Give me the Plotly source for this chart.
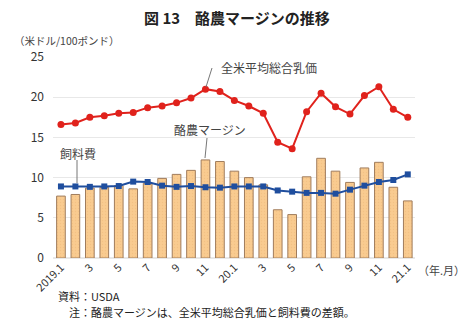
import plotly.graph_objects as go

months = ["2019.1", "2", "3", "4", "5", "6", "7", "8", "9", "10", "11", "12",
          "20.1", "2", "3", "4", "5", "6", "7", "8", "9", "10", "11", "12", "21.1"]
milk_price = [16.6, 16.8, 17.5, 17.7, 18.0, 18.1, 18.7, 18.9, 19.3, 19.9, 21.0, 20.7,
              19.6, 18.9, 18.0, 14.4, 13.6, 18.2, 20.5, 18.8, 17.9, 20.2, 21.3, 18.5, 17.5]
feed_cost = [8.9, 8.9, 8.85, 8.9, 8.95, 9.5, 9.45, 9.0, 8.85, 8.95, 8.8, 8.75,
             8.9, 8.9, 8.9, 8.4, 8.25, 8.1, 8.1, 8.0, 8.5, 9.0, 9.45, 9.7, 10.4]
margin = [7.7, 7.9, 8.7, 8.8, 9.0, 8.6, 9.3, 9.9, 10.4, 10.9, 12.2, 12.0,
          10.8, 10.0, 9.1, 6.0, 5.4, 10.1, 12.4, 10.8, 9.4, 11.2, 11.9, 8.8, 7.1]
tick_idx = list(range(0, 25, 2))
tick_text = ["2019.1", "3", "5", "7", "9", "11", "20.1", "3", "5", "7", "9", "11", "21.1"]

FONT = "Noto Sans CJK JP"
W, H = 467, 324
ML, MR, MT, MB = 53, 52, 57, 66
PW, PH = W - ML - MR, H - MT - MB


def px(xp):
    return (xp - ML) / PW


def py(yp):
    return (H - MB - yp) / PH


x = list(range(len(months)))

fig = go.Figure()
fig.add_trace(go.Bar(
    x=x, y=margin, width=0.6,
    marker=dict(color="#F9C88C", line=dict(color="#A07C5C", width=1),
                pattern=dict(shape=".", fgcolor="#EDB878", bgcolor="#F9CB90",
                             size=3, solidity=0.2)),
    name="酪農マージン"))
fig.add_trace(go.Scatter(
    x=x, y=feed_cost, mode="lines+markers",
    line=dict(color="#1F4E9E", width=2),
    marker=dict(symbol="square", size=6, color="#1F4E9E"),
    name="飼料費"))
fig.add_trace(go.Scatter(
    x=x, y=milk_price, mode="lines+markers",
    line=dict(color="#E0221C", width=2),
    marker=dict(symbol="circle", size=7, color="#E0221C"),
    name="全米平均総合乳価"))

txt = dict(family=FONT, size=12, color="#444444")
annotations = [
    dict(text="全米平均総合乳価", x=219, y=67, xanchor="left", yanchor="middle"),
    dict(text="酪農マージン", x=172, y=129, xanchor="left", yanchor="middle"),
    dict(text="飼料費", x=58, y=153, xanchor="left", yanchor="middle"),
    dict(text="（年.月）", x=416, y=270, xanchor="left", yanchor="middle",
         font=dict(family=FONT, size=11, color="#444444")),
    dict(text="（米ドル/100ポンド）", x=12, y=40, xanchor="left", yanchor="middle",
         font=dict(family=FONT, size=10.5, color="#444444")),
    dict(text="資料：USDA", x=56, y=296, xanchor="left", yanchor="middle",
         font=dict(family=FONT, size=11, color="#222222")),
    dict(text="注：酪農マージンは、全米平均総合乳価と飼料費の差額。", x=67, y=312,
         xanchor="left", yanchor="middle",
         font=dict(family=FONT, size=11, color="#222222")),
    dict(text="図 13　酪農マージンの推移", x=237, y=17, xanchor="center", yanchor="middle",
         font=dict(family=FONT, size=15, color="#222222", weight="bold")),
]
anns = []
for a in annotations:
    a.setdefault("font", txt)
    anns.append(dict(xref="paper", yref="paper", showarrow=False,
                     **{k: v for k, v in a.items() if k not in ("x", "y")},
                     x=px(a["x"]), y=py(a["y"])))

# leader lines from labels to their series
leaders = [((212, 68), (206, 87)), ((207, 138), (205, 158)), ((77, 160), (77, 183))]
shapes = []
for (x0, y0), (x1, y1) in leaders:
    shapes.append(dict(type="line", xref="paper", yref="paper",
                       x0=px(x0), y0=py(y0), x1=px(x1), y1=py(y1),
                       line=dict(color="#777777", width=1)))

fig.update_layout(
    width=W, height=H,
    margin=dict(l=ML, r=MR, t=MT, b=MB),
    paper_bgcolor="white", plot_bgcolor="white",
    showlegend=False,
    font=dict(family=FONT, size=12, color="#333333"),
    annotations=anns, shapes=shapes,
    xaxis=dict(range=[-0.55, 24.5], tickmode="array", tickvals=tick_idx,
               ticktext=tick_text, tickangle=-45, showgrid=False, showline=False,
               ticks="", tickfont=dict(family=FONT, size=11, color="#333333"),
               zeroline=False),
    yaxis=dict(range=[0, 25], dtick=5, showgrid=True, gridcolor="#E8E8E8",
               gridwidth=1, zeroline=True, zerolinecolor="#E8E8E8", showline=False,
               ticks="", ticklabelstandoff=8,
               tickfont=dict(family=FONT, size=12, color="#333333")),
)

fig.write_html("out.html")
